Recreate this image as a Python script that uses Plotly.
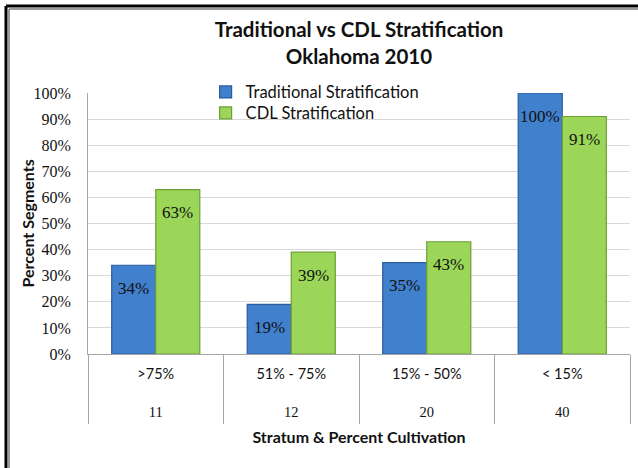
import plotly.graph_objects as go

strata = ["11", "12", "20", "40"]
cultivation = [">75%", "51% - 75%", "15% - 50%", "< 15%"]
traditional = [34, 19, 35, 100]
cdl = [63, 39, 43, 91]
traditional_labels = ["34%", "19%", "35%", "100%"]
cdl_labels = ["63%", "39%", "43%", "91%"]
y_ticks = [0, 10, 20, 30, 40, 50, 60, 70, 80, 90, 100]
y_tick_labels = ["0%", "10%", "20%", "30%", "40%", "50%", "60%", "70%", "80%", "90%", "100%"]

cats = [c + " | " + s for c, s in zip(cultivation, strata)]
ticktext = [
    "%s<br> <br><span style='font-family:Liberation Serif'>%s</span>" % (c, s)
    for c, s in zip(cultivation, strata)
]

label_font = dict(family="Liberation Serif", size=17, color="#111111")
legend_font = dict(family="Lato", size=16.5, color="#111111")

fig = go.Figure()
fig.add_trace(go.Bar(
    x=cats, y=traditional, name="Traditional Stratification", legend="legend",
    showlegend=True,
    marker=dict(color="#4180CC", line=dict(color="#2B5C9E", width=1.2)),
))
fig.add_trace(go.Bar(
    x=cats, y=cdl, name="CDL Stratification", legend="legend2",
    showlegend=True,
    marker=dict(color="#9BD658", line=dict(color="#6F9E35", width=1.2)),
))

# value labels inside bars, below the bar tops
for vals, labs, shift in [(traditional, traditional_labels, -22), (cdl, cdl_labels, 22)]:
    for c, v, t in zip(cats, vals, labs):
        fig.add_annotation(x=c, y=v, xref="x", yref="y", text=t, showarrow=False,
                           xshift=shift, yshift=-23, yanchor="middle", font=label_font)

# y-axis title
fig.add_annotation(x=-0.1125, y=0.5, xref="paper", yref="paper", text="<b>Percent Segments</b>",
                   textangle=-90, showarrow=False, xanchor="center", yanchor="middle",
                   font=dict(family="Lato", size=16, color="#111111"))

fig.update_layout(
    width=638, height=468, showlegend=True,
    margin=dict(l=88, r=8, t=93, b=114, autoexpand=False),
    paper_bgcolor="white", plot_bgcolor="white",
    barmode="group", bargap=0.35, bargroupgap=0,
    title=dict(text="<b>Traditional vs CDL Stratification<br>Oklahoma 2010</b>",
               x=0.5, xref="paper", xanchor="center", y=0.92, yanchor="top",
               font=dict(family="Lato", size=20.5, color="#111111")),
    legend=dict(x=0.217, y=1.07, xanchor="left", yanchor="top", visible=True,
                bgcolor="rgba(0,0,0,0)", font=legend_font, itemwidth=30),
    legend2=dict(x=0.217, y=0.9895, xanchor="left", yanchor="top", visible=True,
                 bgcolor="rgba(0,0,0,0)", font=legend_font, itemwidth=30),
    font=dict(family="Lato", color="#111111"),
)
fig.update_yaxes(
    range=[0, 100], tickmode="array", tickvals=y_ticks, ticktext=y_tick_labels,
    showgrid=True, gridcolor="#D9D9D9", gridwidth=1,
    showline=True, linecolor="#A6A6A6", linewidth=1,
    tickfont=dict(family="Liberation Serif", size=16, color="#111111"),
    ticks="", ticklabelstandoff=13, automargin=False,
    zeroline=False,
)
fig.update_xaxes(
    type="category", tickmode="array", tickvals=cats, ticktext=ticktext,
    tickson="boundaries", ticks="outside", ticklen=69, tickcolor="#A6A6A6", tickwidth=1,
    showline=True, linecolor="#A6A6A6", linewidth=1, automargin=False, showgrid=False,
    tickfont=dict(family="Lato", size=14.5, color="#111111"), ticklabelstandoff=7,
    title=dict(text="<b>Stratum & Percent Cultivation</b>", font=dict(family="Lato", size=16), standoff=12),
)

# outer frame (black + gray lines on left and top)
for xp, yp, col, w in [(-0.1513, 1.3333, "black", 3), (-0.1458, 1.3218, "#999999", 2)]:
    fig.add_shape(type="line", xref="paper", yref="paper", x0=xp, x1=xp, y0=yp, y1=-0.6,
                  line=dict(color=col, width=w), layer="above")
    fig.add_shape(type="line", xref="paper", yref="paper", x0=xp, x1=1.1, y0=yp, y1=yp,
                  line=dict(color=col, width=w), layer="above")

fig.write_html("out.html", config={"displayModeBar": False},
               post_script="document.body.style.margin='0px';document.body.style.overflow='hidden';document.documentElement.style.overflow='hidden';")
